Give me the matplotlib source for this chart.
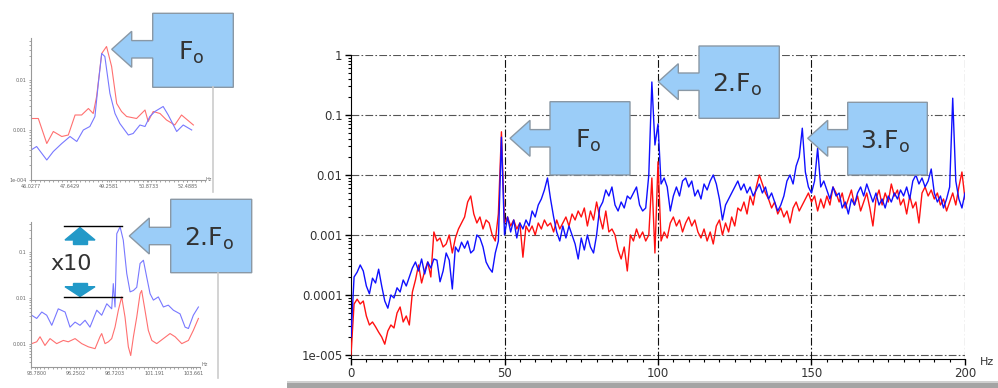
import numpy as np
import matplotlib
matplotlib.use("Agg")
import matplotlib.pyplot as plt
from matplotlib.patches import Polygon, Rectangle
from matplotlib.ticker import FixedLocator, FixedFormatter, LogLocator, MultipleLocator, NullFormatter

W, H = 998, 388

# main spectrum, 1 Hz bins, log10 of amplitude
freq = np.arange(0, 201)
blue_log = [
    -4.7, -3.7, -3.62, -3.5, -3.6, -3.85, -3.98, -3.72, -3.8, -3.57,
    -3.85, -4.1, -4.22, -4.0, -4.05, -3.88, -3.95, -3.75, -3.85, -3.7,
    -3.55, -3.45, -3.6, -3.4, -3.65, -3.45, -3.55, -3.4, -3.42, -3.78,
    -3.6, -3.3, -3.42, -3.9, -3.2, -3.28, -3.12, -3.22, -3.1, -3.3,
    -3.25, -3.0, -3.05, -3.2, -3.45, -3.55, -3.62, -3.3, -3.1, -1.37,
    -3.0, -2.7, -2.95, -2.75, -3.05, -2.8, -2.9, -2.75, -2.85, -2.6,
    -2.7, -2.5, -2.4, -2.25, -2.05, -2.4, -2.7, -2.95, -3.1, -2.85,
    -3.05, -2.85, -3.0, -3.15, -3.4, -3.05, -3.25, -3.0, -3.2, -3.3,
    -3.0, -2.55, -2.45, -2.25, -2.35, -2.2, -2.5, -2.6, -2.45, -2.55,
    -2.35, -2.4, -2.3, -2.2, -2.5, -2.6, -2.55, -2.0, -0.45, -1.5,
    -1.15, -2.15, -2.05, -2.2, -2.6, -2.35, -2.2, -2.35, -2.1, -2.05,
    -2.2, -2.1, -2.35, -2.25, -2.4, -2.15, -2.25, -2.1, -2.0, -2.15,
    -2.4, -2.75, -2.5, -2.4, -2.3, -2.2, -2.1, -2.25, -2.15, -2.3,
    -2.2, -2.35, -2.25, -2.15, -2.3, -2.2, -2.4, -2.3, -2.45, -2.6,
    -2.5, -2.35, -2.1, -2.0, -2.15, -1.85, -1.7, -1.22, -1.95, -2.2,
    -2.3, -2.1, -1.55, -2.2, -2.1, -2.25, -2.4, -2.2, -2.35, -2.3,
    -2.55, -2.45, -2.65, -2.4, -2.5, -2.3, -2.2, -2.35, -2.15, -2.3,
    -2.45, -2.3, -2.5, -2.4, -2.55, -2.35, -2.45, -2.3, -2.4, -2.25,
    -2.35, -2.2, -2.4, -2.1, -2.0, -2.15, -2.05, -2.2, -2.1, -1.9,
    -2.3, -2.45, -2.35, -2.55, -2.4, -2.2, -0.72, -2.1, -2.4, -2.55,
    -2.3,
]
red_log = [
    -5.0, -4.15, -4.07, -4.15, -4.1, -4.35, -4.5, -4.45, -4.53, -4.62,
    -4.7, -4.82, -4.6, -4.5, -4.55, -4.3, -4.2, -4.45, -4.35, -4.5,
    -3.95, -3.75, -3.5, -3.8, -3.6, -3.45, -3.7, -2.95, -3.1, -3.05,
    -3.2, -3.15, -3.0, -3.3, -3.05, -2.9, -2.8, -2.7, -2.45, -2.35,
    -2.65, -2.8, -2.7, -2.9, -2.75, -2.8, -3.0, -3.1, -2.65, -1.28,
    -2.8, -2.7, -2.85, -2.75, -2.9, -2.8, -3.37, -2.85, -2.95, -2.85,
    -3.0, -2.8, -2.9, -2.75, -2.85, -2.8, -2.95, -2.75, -2.9, -2.8,
    -2.7, -2.85, -2.65, -2.75, -2.6, -2.7, -2.55, -2.85, -2.6, -2.75,
    -2.45, -2.7, -2.9, -2.6, -2.95, -2.9, -3.0, -3.25, -3.4, -3.2,
    -3.6, -3.0, -3.1, -2.9, -3.05, -2.95, -3.1, -3.0, -2.05, -3.3,
    -1.78, -3.1, -2.95, -3.05, -2.8, -2.7, -2.85, -2.75, -2.95, -2.8,
    -2.7, -2.85, -2.75, -2.95, -3.05, -2.9, -3.1, -2.95, -3.15, -2.85,
    -2.75, -3.0, -2.8, -2.95, -2.7, -2.85, -2.55, -2.6, -2.45, -2.65,
    -2.35, -2.5, -2.2, -2.0, -2.15, -2.3, -2.4, -2.55, -2.45, -2.65,
    -2.55, -2.7, -2.6, -2.8, -2.55, -2.45, -2.6, -2.5, -2.4, -2.3,
    -2.45, -2.35, -2.6, -2.4, -2.55, -2.35, -2.5, -2.2, -2.3, -2.45,
    -2.3, -2.55, -2.4, -2.25, -2.5, -2.35, -2.6, -2.45, -2.3, -2.55,
    -2.85, -2.4, -2.25, -2.5, -2.3, -2.45, -2.15, -2.35, -2.25, -2.5,
    -2.4, -2.65, -2.35, -2.55, -2.45, -2.8, -2.3, -2.2, -2.35, -2.25,
    -2.4, -2.3, -2.5, -2.4, -2.6, -2.45, -2.3, -2.5, -2.2, -1.95,
    -2.4,
]

# zoom around F0 (top left inset)
f0_blue_hz = [46.03, 46.26, 46.68, 46.95, 47.30, 47.64, 47.92, 48.19, 48.46, 48.67, 48.81,
              48.95, 49.08, 49.29, 49.50, 49.70, 50.05, 50.25, 50.53, 50.74, 50.94, 51.15,
              51.49, 51.70, 52.05, 52.32, 52.67]
f0_blue_log = [-3.4, -3.33, -3.6, -3.43, -3.27, -3.13, -3.23, -3.0, -2.93, -2.73, -2.07,
               -1.47, -1.53, -2.27, -2.67, -2.87, -3.1, -3.07, -2.9, -2.93, -2.73, -2.63,
               -2.53, -2.7, -3.03, -2.9, -3.0]
f0_red_hz = [46.03, 46.33, 46.68, 46.95, 47.30, 47.57, 47.85, 48.12, 48.40, 48.60, 48.74,
             48.95, 49.15, 49.36, 49.57, 49.77, 49.98, 50.39, 50.74, 50.87, 51.08, 51.36,
             51.63, 51.97, 52.25, 52.74]
f0_red_log = [-2.77, -2.77, -3.27, -3.03, -3.13, -3.1, -2.7, -2.7, -2.57, -2.67, -2.33,
              -1.47, -1.33, -1.73, -2.47, -2.63, -2.73, -2.77, -2.6, -2.83, -2.63, -2.67,
              -2.8, -2.9, -2.7, -2.9]
f0_ticks = [46.0277, 47.6429, 49.2581, 50.8733, 52.4885]
f0_tick_labels = ["46.0277", "47.6429", "49.2581", "50.8733", "52.4885"]

# zoom around 2.F0 (bottom left inset)
f2_blue_hz = [93.46, 93.78, 94.10, 94.41, 94.73, 95.14, 95.57, 95.88, 96.20, 96.51, 96.83,
              97.14, 97.57, 97.88, 98.20, 98.51, 98.61, 98.72, 98.83, 99.04, 99.24, 99.46,
              99.67, 99.88, 100.09, 100.30, 100.51, 100.72, 100.93, 101.14, 101.45, 101.77,
              102.08, 102.40, 102.82, 103.14, 103.35, 103.66, 103.98]
f2_blue_log = [-2.38, -2.45, -2.31, -2.38, -2.6, -2.24, -2.31, -2.64, -2.53, -2.6, -2.49,
               -2.64, -2.27, -2.38, -2.13, -2.24, -1.69, -2.2, -0.6, -0.45, -0.74, -1.47,
               -1.87, -1.84, -1.77, -1.25, -1.18, -1.55, -1.91, -2.05, -1.98, -2.2,
               -2.16, -2.27, -2.35, -2.64, -2.67, -2.38, -2.2]
f2_red_hz = [93.46, 93.78, 93.99, 94.30, 94.62, 95.04, 95.46, 95.77, 96.20, 96.62, 97.04,
             97.46, 97.77, 97.88, 98.09, 98.30, 98.51, 98.72, 98.93, 99.14, 99.35, 99.56,
             99.71, 99.88, 100.09, 100.30, 100.40, 100.61, 100.82, 101.04, 101.35, 101.77,
             102.19, 102.51, 102.93, 103.35, 103.66, 103.98]
f2_red_log = [-3.0, -2.96, -2.85, -3.04, -2.89, -3.0, -2.93, -2.96, -2.89, -3.0, -3.07,
              -3.11, -2.85, -2.78, -3.0, -2.96, -2.89, -2.64, -2.27, -1.98, -2.42, -3.07,
              -3.26, -2.85, -2.42, -1.91, -1.84, -2.27, -2.71, -2.93, -3.0, -2.89,
              -2.78, -2.85, -3.0, -2.93, -2.71, -2.45]
f2_ticks = [93.78, 96.2502, 98.7203, 101.191, 103.661]
f2_tick_labels = ["93.7800", "96.2502", "98.7203", "101.191", "103.661"]

main_yticks = [1e-5, 1e-4, 1e-3, 1e-2, 1e-1, 1]
main_ylabels = ["1e-005", "0.0001", "0.001", "0.01", "0.1", "1"]
main_xticks = [0, 50, 100, 150, 200]

CALLOUT_FILL = "#9bcdf8"
CALLOUT_EDGE = "#8a98a5"
TEAL = "#2299c8"

fig = plt.figure(figsize=(W / 100, H / 100), dpi=100)


def px_axes(x0, y0, x1, y1):
    return fig.add_axes([x0 / W, 1 - y1 / H, (x1 - x0) / W, (y1 - y0) / H])


# ---- main spectrum ----
ax = px_axes(351, 55, 965, 359)
ax.plot(freq, 10 ** np.array(red_log), color="#ff1010", lw=1.0, zorder=3)
ax.plot(freq, 10 ** np.array(blue_log), color="#1010ff", lw=1.0, zorder=4)
ax.set_yscale("log")
ax.set_xlim(0, 200)
ax.set_ylim(10 ** -5.067, 1)
dash = (0, (7, 2, 1.5, 2))
for v in main_yticks:
    ax.axhline(v, color="#555555", lw=0.8, ls=dash, zorder=1)
for v in main_xticks[1:]:
    ax.axvline(v, color="#111111", lw=0.8, ls=dash, zorder=1)
ax.spines["top"].set_visible(False)
ax.spines["right"].set_visible(False)
ax.yaxis.set_major_locator(FixedLocator(main_yticks))
ax.yaxis.set_major_formatter(FixedFormatter(main_ylabels))
ax.yaxis.set_minor_locator(LogLocator(base=10, subs=np.arange(2, 10)))
ax.yaxis.set_minor_formatter(NullFormatter())
ax.xaxis.set_major_locator(FixedLocator(main_xticks))
ax.xaxis.set_minor_locator(MultipleLocator(5))
ax.tick_params(which="major", length=4, width=1, labelsize=8.5, labelcolor="#333333", pad=2)
ax.tick_params(which="minor", length=2, width=0.8)
fig.text(987 / W, 1 - 362 / H, "Hz", fontsize=8, color="#333333", ha="center", va="center")

# ---- small zoom plots ----
def inset(box, xlim, ylim, xticks, xlabels, yticks, ylabels, bx, rx, rl, hz_pos):
    a = px_axes(*box)
    a.plot(rx, 10 ** np.array(rl), color="#ff7070", lw=0.8)
    a.plot(bx[0], 10 ** np.array(bx[1]), color="#7878ff", lw=0.8)
    a.set_yscale("log")
    a.set_xlim(*xlim)
    a.set_ylim(*ylim)
    for s in ("top", "right"):
        a.spines[s].set_visible(False)
    for s in ("left", "bottom"):
        a.spines[s].set_color("#999999")
        a.spines[s].set_linewidth(0.8)
    a.xaxis.set_major_locator(FixedLocator(xticks))
    a.xaxis.set_major_formatter(FixedFormatter(xlabels))
    a.yaxis.set_major_locator(FixedLocator(yticks))
    a.yaxis.set_major_formatter(FixedFormatter(ylabels))
    a.yaxis.set_minor_locator(LogLocator(base=10, subs=np.arange(2, 10)))
    a.yaxis.set_minor_formatter(NullFormatter())
    a.xaxis.set_minor_locator(FixedLocator(np.linspace(xlim[0], xlim[1], 40)))
    a.tick_params(which="both", colors="#999999", labelsize=3.5, labelcolor="#666666",
                  length=1.5, width=0.6, pad=1.5)
    fig.text(hz_pos[0] / W, 1 - hz_pos[1] / H, "Hz", fontsize=3.5, color="#666666")
    return a


inset((31, 38, 205, 180), (46.0277, 53.22), (1e-4, 10 ** -1.16),
      f0_ticks, f0_tick_labels, [1e-4, 1e-3, 1e-2], ["1e-004", "0.001", "0.01"],
      (f0_blue_hz, f0_blue_log), f0_red_hz, f0_red_log, (206, 181))
inset((31, 222, 200, 367), (93.42, 104.08), (10 ** -3.51, 10 ** -0.345),
      f2_ticks, f2_tick_labels, [1e-3, 1e-2, 1e-1], ["0.001", "0.01", "0.1"],
      (f2_blue_hz, f2_blue_log), f2_red_hz, f2_red_log, (202, 366))

# ---- overlay: callouts and marks in pixel space ----
ov = fig.add_axes([0, 0, 1, 1], zorder=10)
ov.set_xlim(0, W)
ov.set_ylim(H, 0)
ov.axis("off")


def callout(rect, tip, text, head=18, stem=8.7, length=20):
    x0, y0, x1, y1 = rect
    tx, ty = tip
    hx = tx + length
    pts = [(x0, y0), (x1, y0), (x1, y1), (x0, y1), (x0, ty + stem), (hx, ty + stem),
           (hx, ty + head), (tx, ty), (hx, ty - head), (hx, ty - stem), (x0, ty - stem)]
    ov.add_patch(Polygon(pts, closed=True, facecolor=CALLOUT_FILL, edgecolor=CALLOUT_EDGE, lw=1))
    ov.text((x0 + x1) / 2 - 2, (y0 + y1) / 2 + 3, text, fontsize=18, color="#333333",
            ha="center", va="center")


callout((152.7, 13.3, 233.3, 87.3), (111.7, 49.3), r"F$_\mathregular{o}$")
callout((170.7, 199.3, 251.7, 272.7), (129.3, 236), r"2.F$_\mathregular{o}$")
callout((550, 101.7, 630, 175), (510, 138.3), r"F$_\mathregular{o}$")
callout((699, 46, 779.3, 118.3), (658.3, 81.7), r"2.F$_\mathregular{o}$")
callout((847.7, 102.3, 927.3, 175), (807.7, 138.3), r"3.F$_\mathregular{o}$")

# x10 marker on the 2.F0 inset
ov.plot([64, 122], [225.7, 225.7], color="black", lw=1)
ov.plot([64, 122], [297.3, 297.3], color="black", lw=1)
ov.add_patch(Polygon([(65, 240), (80, 227.5), (95, 240)], closed=True, color=TEAL))
ov.add_patch(Rectangle((73.3, 240), 13.4, 3.5, color=TEAL))
ov.add_patch(Polygon([(65, 286.7), (80, 296.5), (95, 286.7)], closed=True, color=TEAL))
ov.add_patch(Rectangle((73.3, 283.2), 13.4, 3.5, color=TEAL))
ov.text(71.5, 264, "x10", fontsize=16, color="#333333", ha="center", va="center")

# panel edges and screenshot shadow
ov.plot([213, 213], [87, 192], color="#cccccc", lw=1.2)
ov.plot([218, 218], [273, 378], color="#cccccc", lw=1.2)
ov.add_patch(Rectangle((287, 382), W - 287, 6, color="#a4a4a4", lw=0))
ov.add_patch(Rectangle((287, 381), W - 287, 1.5, color="#d0d0d0", lw=0))

fig.savefig("out.png", dpi=100)
